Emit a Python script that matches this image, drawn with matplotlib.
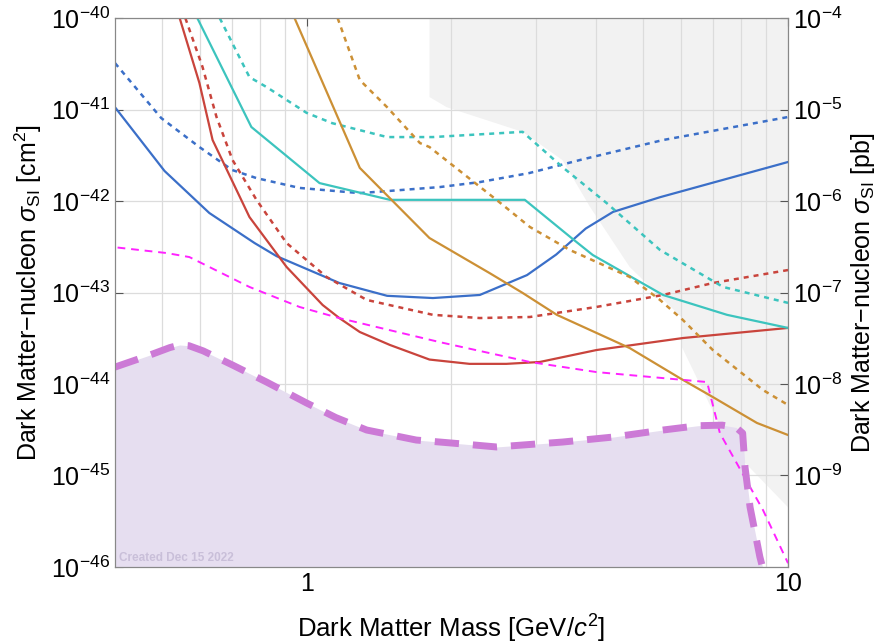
import numpy as np
import matplotlib
matplotlib.use("Agg")
import matplotlib.pyplot as plt
from matplotlib.ticker import FixedLocator, NullFormatter, NullLocator

plt.rcParams['font.family'] = ['Liberation Sans', 'DejaVu Sans']
plt.rcParams['mathtext.fontset'] = 'custom'
plt.rcParams['mathtext.rm'] = 'Liberation Sans'
plt.rcParams['mathtext.it'] = 'Liberation Sans:italic'

# mass in GeV/c^2, cross section in cm^2
blue_m = [0.4, 0.507, 0.628, 0.78, 0.866, 1.17, 1.47, 1.83, 2.29, 2.87, 3.3, 3.8, 4.33, 5.42, 10]
blue_s = [1.06e-41, 2.13e-42, 7.4e-43, 3.47e-43, 2.5e-43, 1.27e-43, 9.2e-44, 8.7e-44, 9.4e-44,
          1.55e-43, 2.6e-43, 5.0e-43, 7.6e-43, 1.1e-42, 2.67e-42]

blue_d_m = [0.4, 0.499, 0.599, 0.701, 0.787, 0.967, 1.289, 1.488, 1.89, 2.29, 2.9, 3.7, 5.5, 10]
blue_d_s = [3.22e-41, 8.07e-42, 3.89e-42, 2.18e-42, 1.78e-42, 1.39e-42, 1.22e-42, 1.29e-42,
            1.42e-42, 1.61e-42, 2.02e-42, 2.81e-42, 4.64e-42, 8.28e-42]

red_m = [0.545, 0.599, 0.638, 0.761, 0.909, 1.08, 1.17, 1.29, 1.49, 1.8, 2.18, 2.6, 3.05, 4.0, 6.05, 10]
red_s = [1e-40, 1.95e-41, 4.64e-42, 6.68e-43, 1.9e-43, 7.3e-44, 5.25e-44, 3.7e-44, 2.67e-44,
         1.85e-44, 1.66e-44, 1.66e-44, 1.74e-44, 2.35e-44, 3.18e-44, 4.1e-44]

red_d_m = [0.56, 0.608, 0.65, 0.702, 0.787, 0.909, 1.1, 1.333, 1.83, 2.29, 2.91, 4.0, 5.5, 6.98, 10]
red_d_s = [1e-40, 2.92e-41, 8.3e-42, 2.8e-42, 1.03e-42, 3.47e-43, 1.48e-43, 8.3e-44, 5.7e-44,
           5.26e-44, 5.4e-44, 6.95e-44, 9.4e-44, 1.27e-43, 1.76e-43]

cyan_m = [0.593, 0.768, 1.064, 1.49, 1.83, 2.84, 3.57, 3.93, 5.5, 7.47, 10]
cyan_s = [1e-40, 6.44e-42, 1.57e-42, 1.03e-42, 1.03e-42, 1.03e-42, 3.85e-43, 2.57e-43,
          9.4e-44, 5.7e-44, 4.1e-44]

cyan_d_m = [0.66, 0.761, 0.826, 1.0, 1.13, 1.47, 1.83, 2.81, 3.4, 4.2, 5.42, 7.33, 10]
cyan_d_s = [1e-40, 2.26e-41, 1.76e-41, 9.2e-42, 7.1e-42, 5.0e-42, 5.0e-42, 5.7e-42, 2.35e-42,
            9.5e-43, 2.92e-43, 1.15e-43, 7.7e-44]

orange_m = [0.944, 1.29, 1.8, 2.4, 2.81, 3.31, 4.69, 5.96, 6.98, 8.62, 10]
orange_s = [1e-40, 2.3e-42, 3.94e-43, 1.63e-43, 9.9e-44, 5.7e-44, 2.47e-44, 1.16e-44, 7.2e-45,
            3.75e-45, 2.77e-45]

orange_d_m = [1.16, 1.29, 1.47, 1.72, 1.8, 2.48, 2.91, 3.52, 4.69, 5.42, 6.05, 6.98, 8.87, 10]
orange_d_s = [1e-40, 2.1e-41, 1.06e-41, 4.3e-42, 3.89e-42, 1.03e-42, 5.2e-43, 2.92e-43,
              1.48e-43, 8.3e-44, 5.0e-44, 2.35e-44, 8.6e-45, 5.9e-45]

magenta_m = [0.405, 0.512, 0.571, 0.761, 0.967, 1.17, 1.89, 2.91, 4.0, 5.5, 6.79, 7.22, 8.87, 10]
magenta_s = [3.1e-43, 2.7e-43, 2.44e-43, 1.15e-43, 6.95e-44, 5.25e-44, 2.87e-44, 1.74e-44,
             1.35e-44, 1.16e-44, 1.05e-44, 2.9e-45, 4.2e-46, 1.1e-46]

proj_m = [0.4, 0.47, 0.52, 0.545, 0.57, 0.61, 0.702, 0.826, 1.0, 1.15, 1.333, 1.69, 2.11, 2.48,
          3.4, 4.33, 5.5, 6.5, 7.3, 7.8, 8.05, 8.14, 8.34, 8.74, 8.85]
proj_s = [1.53e-44, 2.05e-44, 2.5e-44, 2.67e-44, 2.62e-44, 2.3e-44, 1.61e-44, 1.05e-44, 6.2e-45,
          4.3e-45, 3.14e-45, 2.44e-45, 2.21e-45, 2.05e-45, 2.32e-45, 2.63e-45, 3.14e-45, 3.5e-45,
          3.55e-45, 3.35e-45, 2.9e-45, 1.24e-45, 4.5e-46, 1.29e-46, 1e-46]

# light gray region boundary
floor_m = [1.8, 1.8, 1.955, 2.81, 3.4, 3.88, 4.69, 6.02, 6.02, 7.6, 10, 10]
floor_s = [1e-40, 1.37e-41, 1.06e-41, 5.7e-42, 2.8e-42, 8.6e-43, 1.9e-43, 5.3e-44, 2.53e-44,
           2.0e-45, 4.5e-46, 1e-40]

fig = plt.figure(figsize=(8.79, 6.44), dpi=100)
ax = fig.add_axes([0.1308, 0.1196, 0.7657, 0.8524])
ax.set_xscale('log')
ax.set_yscale('log')
ax.set_xlim(0.4, 10)
ax.set_ylim(1e-46, 1e-40)

ax.fill(floor_m, floor_s, color='#f2f2f2', lw=0, zorder=0)
ax.fill_between(proj_m, proj_s, 1e-47, color='#e6def0', lw=0, zorder=1)

ax.plot(blue_m, blue_s, color='#3b6fc8', lw=1.6, zorder=3)
ax.plot(blue_d_m, blue_d_s, color='#3b6fc8', lw=1.8, ls=(0, (2, 2)), zorder=3)
ax.plot(red_m, red_s, color='#c9443c', lw=1.6, zorder=3)
ax.plot(red_d_m, red_d_s, color='#c9443c', lw=1.8, ls=(0, (2, 2)), zorder=3)
ax.plot(cyan_m, cyan_s, color='#3cc4be', lw=1.6, zorder=3)
ax.plot(cyan_d_m, cyan_d_s, color='#3cc4be', lw=1.8, ls=(0, (2, 2)), zorder=3)
ax.plot(orange_m, orange_s, color='#cc9035', lw=1.6, zorder=3)
ax.plot(orange_d_m, orange_d_s, color='#cc9035', lw=1.8, ls=(0, (2, 2)), zorder=3)
ax.plot(magenta_m, magenta_s, color='#ff22ff', lw=1.4, ls=(0, (4, 3)), zorder=3)
ax.plot(proj_m, proj_s, color='#cc7ad6', lw=5, ls=(0, (3.5, 2)), zorder=4)

ax.grid(True, which='both', axis='x', color='#dcdcdc', lw=0.9, zorder=0.5)
ax.grid(True, which='major', axis='y', color='#dcdcdc', lw=0.9, zorder=0.5)
ax.set_axisbelow(True)

ax.xaxis.set_major_locator(FixedLocator([1, 10]))
ax.set_xticklabels(['1', '10'])
ax.xaxis.set_minor_locator(FixedLocator([0.5, 0.6, 0.7, 0.8, 0.9, 2, 3, 4, 5, 6, 7, 8, 9]))
ax.xaxis.set_minor_formatter(NullFormatter())
ax.yaxis.set_major_locator(FixedLocator([1e-46, 1e-45, 1e-44, 1e-43, 1e-42, 1e-41, 1e-40]))
ax.yaxis.set_minor_locator(NullLocator())
ax.tick_params(which='major', direction='in', length=6, labelsize=18, top=True, color='#555555')
ax.tick_params(which='minor', length=0)
for s in ax.spines.values():
    s.set_color('#888888')

ax.set_xlabel('Dark Matter Mass [GeV/$c^2$]', fontsize=18.5, labelpad=12)
ax.set_ylabel('Dark Matter\u2212nucleon $\\sigma_{\\rm SI}$ [cm$^2$]', fontsize=18, labelpad=5)

ax2 = ax.twinx()
ax2.set_yscale('log')
ax2.set_ylim(1e-10, 1e-4)
ax2.yaxis.set_major_locator(FixedLocator([1e-9, 1e-8, 1e-7, 1e-6, 1e-5, 1e-4]))
ax2.yaxis.set_minor_locator(NullLocator())
ax2.tick_params(which='major', direction='in', length=6, labelsize=18, color='#555555')
for s in ax2.spines.values():
    s.set_color('#888888')
ax2.set_ylabel('Dark Matter\u2212nucleon $\\sigma_{\\rm SI}$ [pb]', fontsize=18, labelpad=5)

ax.text(0.407, 1.15e-46, 'Created Dec 15 2022', fontsize=8.5, fontweight='bold',
        color='#c9bfd9', zorder=5)

fig.savefig('out.png', dpi=100)
